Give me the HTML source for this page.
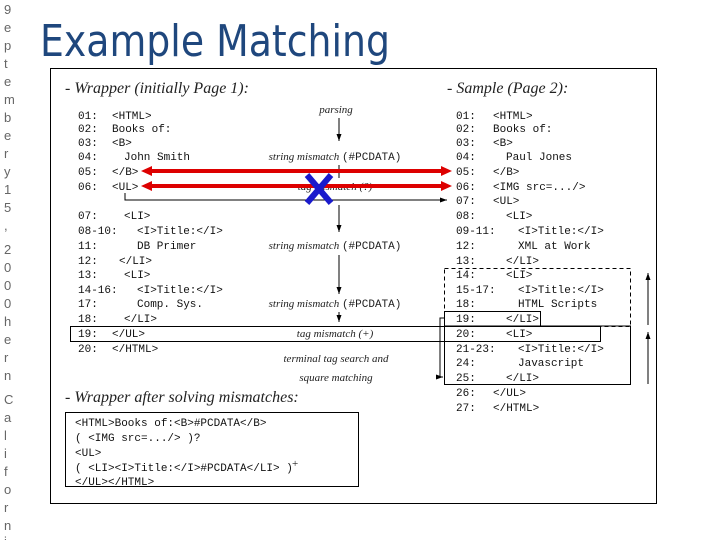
<!DOCTYPE html>
<html><head><meta charset="utf-8"><style>
body{margin:0;background:#fff;width:720px;height:540px;overflow:hidden}
svg{display:block}
.m{font-family:"Liberation Mono",monospace;font-size:11px;fill:#111}
.i{font-family:"Liberation Serif",serif;font-style:italic;font-size:11px;fill:#222}
.h{font-family:"Liberation Serif",serif;font-style:italic;font-size:16px;fill:#222}
.s{font-family:"Liberation Sans",sans-serif;font-size:13px;fill:#666}
</style></head><body>
<svg width="720" height="540" viewBox="0 0 720 540">
<defs>
<marker id="a" markerWidth="8" markerHeight="8" refX="7" refY="4" orient="auto" markerUnits="userSpaceOnUse"><path d="M0,1.5 L7,4 L0,6.5Z" fill="#000"/></marker>
</defs>
<g class="s">
<text x="4" y="14">9</text><text x="4" y="32">e</text><text x="4" y="50">p</text><text x="4" y="68">t</text><text x="4" y="86">e</text><text x="4" y="104">m</text><text x="4" y="122">b</text><text x="4" y="140">e</text><text x="4" y="158">r</text><text x="4" y="176">y</text><text x="4" y="194">1</text><text x="4" y="212">5</text><text x="4" y="230">,</text>
<text x="4" y="254">2</text><text x="4" y="272">0</text><text x="4" y="290">0</text><text x="4" y="308">0</text><text x="4" y="326">h</text><text x="4" y="344">e</text><text x="4" y="362">r</text><text x="4" y="380">n</text>
<text x="4" y="404">C</text><text x="4" y="422">a</text><text x="4" y="440">l</text><text x="4" y="458">i</text><text x="4" y="476">f</text><text x="4" y="494">o</text><text x="4" y="512">r</text><text x="4" y="530">n</text><text x="4" y="546">i</text>
</g>
<text x="40" y="56" font-family="'DejaVu Sans',sans-serif" font-size="44" fill="#1f477d" textLength="350" lengthAdjust="spacingAndGlyphs">Example Matching</text>
<rect x="50.5" y="68.5" width="606" height="435" fill="none" stroke="#000"/>
<text class="h" x="65" y="93">- Wrapper (initially Page 1):</text>
<text class="h" x="447" y="93">- Sample (Page 2):</text>
<g class="m">
<text x="78" y="119">01:</text><text x="112" y="119">&lt;HTML&gt;</text>
<text x="78" y="132">02:</text><text x="112" y="132">Books of:</text>
<text x="78" y="146">03:</text><text x="112" y="146">&lt;B&gt;</text>
<text x="78" y="160">04:</text><text x="124" y="160">John Smith</text>
<text x="78" y="175">05:</text><text x="112" y="175">&lt;/B&gt;</text>
<text x="78" y="190">06:</text><text x="112" y="190">&lt;UL&gt;</text>
<text x="78" y="219">07:</text><text x="124" y="219">&lt;LI&gt;</text>
<text x="78" y="234">08-10:</text><text x="137" y="234">&lt;I&gt;Title:&lt;/I&gt;</text>
<text x="78" y="249">11:</text><text x="137" y="249">DB Primer</text>
<text x="78" y="264">12:</text><text x="119" y="264">&lt;/LI&gt;</text>
<text x="78" y="278">13:</text><text x="124" y="278">&lt;LI&gt;</text>
<text x="78" y="293">14-16:</text><text x="137" y="293">&lt;I&gt;Title:&lt;/I&gt;</text>
<text x="78" y="307">17:</text><text x="137" y="307">Comp.  Sys.</text>
<text x="78" y="322">18:</text><text x="124" y="322">&lt;/LI&gt;</text>
<text x="78" y="337">19:</text><text x="112" y="337">&lt;/UL&gt;</text>
<text x="78" y="352">20:</text><text x="112" y="352">&lt;/HTML&gt;</text>

<text x="456" y="119">01:</text><text x="493" y="119">&lt;HTML&gt;</text>
<text x="456" y="132">02:</text><text x="493" y="132">Books of:</text>
<text x="456" y="146">03:</text><text x="493" y="146">&lt;B&gt;</text>
<text x="456" y="160">04:</text><text x="506" y="160">Paul Jones</text>
<text x="456" y="175">05:</text><text x="493" y="175">&lt;/B&gt;</text>
<text x="456" y="190">06:</text><text x="493" y="190">&lt;IMG src=.../&gt;</text>
<text x="456" y="204">07:</text><text x="493" y="204">&lt;UL&gt;</text>
<text x="456" y="219">08:</text><text x="506" y="219">&lt;LI&gt;</text>
<text x="456" y="234">09-11:</text><text x="518" y="234">&lt;I&gt;Title:&lt;/I&gt;</text>
<text x="456" y="249">12:</text><text x="518" y="249">XML at Work</text>
<text x="456" y="264">13:</text><text x="506" y="264">&lt;/LI&gt;</text>
<text x="456" y="278">14:</text><text x="506" y="278">&lt;LI&gt;</text>
<text x="456" y="293">15-17:</text><text x="518" y="293">&lt;I&gt;Title:&lt;/I&gt;</text>
<text x="456" y="307">18:</text><text x="518" y="307">HTML Scripts</text>
<text x="456" y="322">19:</text><text x="506" y="322">&lt;/LI&gt;</text>
<text x="456" y="337">20:</text><text x="506" y="337">&lt;LI&gt;</text>
<text x="456" y="352">21-23:</text><text x="518" y="352">&lt;I&gt;Title:&lt;/I&gt;</text>
<text x="456" y="366">24:</text><text x="518" y="366">Javascript</text>
<text x="456" y="381">25:</text><text x="506" y="381">&lt;/LI&gt;</text>
<text x="456" y="396">26:</text><text x="493" y="396">&lt;/UL&gt;</text>
<text x="456" y="411">27:</text><text x="493" y="411">&lt;/HTML&gt;</text>
</g>
<g class="i" text-anchor="middle">
<text x="336" y="113">parsing</text>
<text x="335" y="160">string mismatch <tspan font-style="normal" font-family="Liberation Mono,monospace">(#PCDATA)</tspan></text>
<text x="335" y="190">tag mismatch (?)</text>
<text x="335" y="249">string mismatch <tspan font-style="normal" font-family="Liberation Mono,monospace">(#PCDATA)</tspan></text>
<text x="335" y="307">string mismatch <tspan font-style="normal" font-family="Liberation Mono,monospace">(#PCDATA)</tspan></text>
<text x="335" y="337">tag mismatch (+)</text>
<text x="336" y="362">terminal tag search and</text>
<text x="336" y="381">square matching</text>
</g>
<g stroke="#000" stroke-width="1" fill="none">
<line x1="339" y1="118" x2="339" y2="141" marker-end="url(#a)"/>
<line x1="339" y1="165" x2="339" y2="178"/>
<line x1="339" y1="205" x2="339" y2="232" marker-end="url(#a)"/>
<line x1="339" y1="255" x2="339" y2="294" marker-end="url(#a)"/>
<line x1="339" y1="312" x2="339" y2="322" marker-end="url(#a)"/>
<polyline points="125,193 125,200 447,200" marker-end="url(#a)"/>
<rect x="70.5" y="326.5" width="530" height="15"/>
<rect x="444.5" y="311.5" width="96" height="15"/>
<rect x="444.5" y="268.5" width="186" height="58" stroke-dasharray="4,3"/>
<polyline points="444,326 630.5,326 630.5,384.5 444.5,384.5 444.5,326"/>
<polyline points="444,318 440,318 440,377 443,377" marker-end="url(#a)"/>
<line x1="648" y1="325" x2="648" y2="273" marker-end="url(#a)"/>
<line x1="648" y1="384" x2="648" y2="332" marker-end="url(#a)"/>
<rect x="65.5" y="412.5" width="293" height="74"/>
</g>
<g stroke="#d00" stroke-width="4"><line x1="148" y1="171" x2="444" y2="171"/><line x1="148" y1="186" x2="444" y2="186"/></g>
<path d="M141,171 L152,166 L152,176Z M452,171 L441,166 L441,176Z M141,186 L152,181 L152,191Z M452,186 L441,181 L441,191Z" fill="#d00"/>
<g stroke="#1a1acc" stroke-width="6" stroke-linecap="butt"><line x1="307" y1="175" x2="331" y2="203"/><line x1="331" y1="175" x2="307" y2="203"/></g>
<text class="h" x="65" y="402">- Wrapper after solving mismatches:</text>
<g class="m" font-size="10.5">
<text x="75" y="426">&lt;HTML&gt;Books of:&lt;B&gt;#PCDATA&lt;/B&gt;</text>
<text x="75" y="441"> ( &lt;IMG src=.../&gt; )?</text>
<text x="75" y="456">&lt;UL&gt;</text>
<text x="75" y="471"> ( &lt;LI&gt;&lt;I&gt;Title:&lt;/I&gt;#PCDATA&lt;/LI&gt;  )</text>
<text x="75" y="485">&lt;/UL&gt;&lt;/HTML&gt;</text>
</g>
<text x="292" y="467" font-family="Liberation Serif,serif" font-size="11" fill="#222">+</text>
</svg>
</body></html>
